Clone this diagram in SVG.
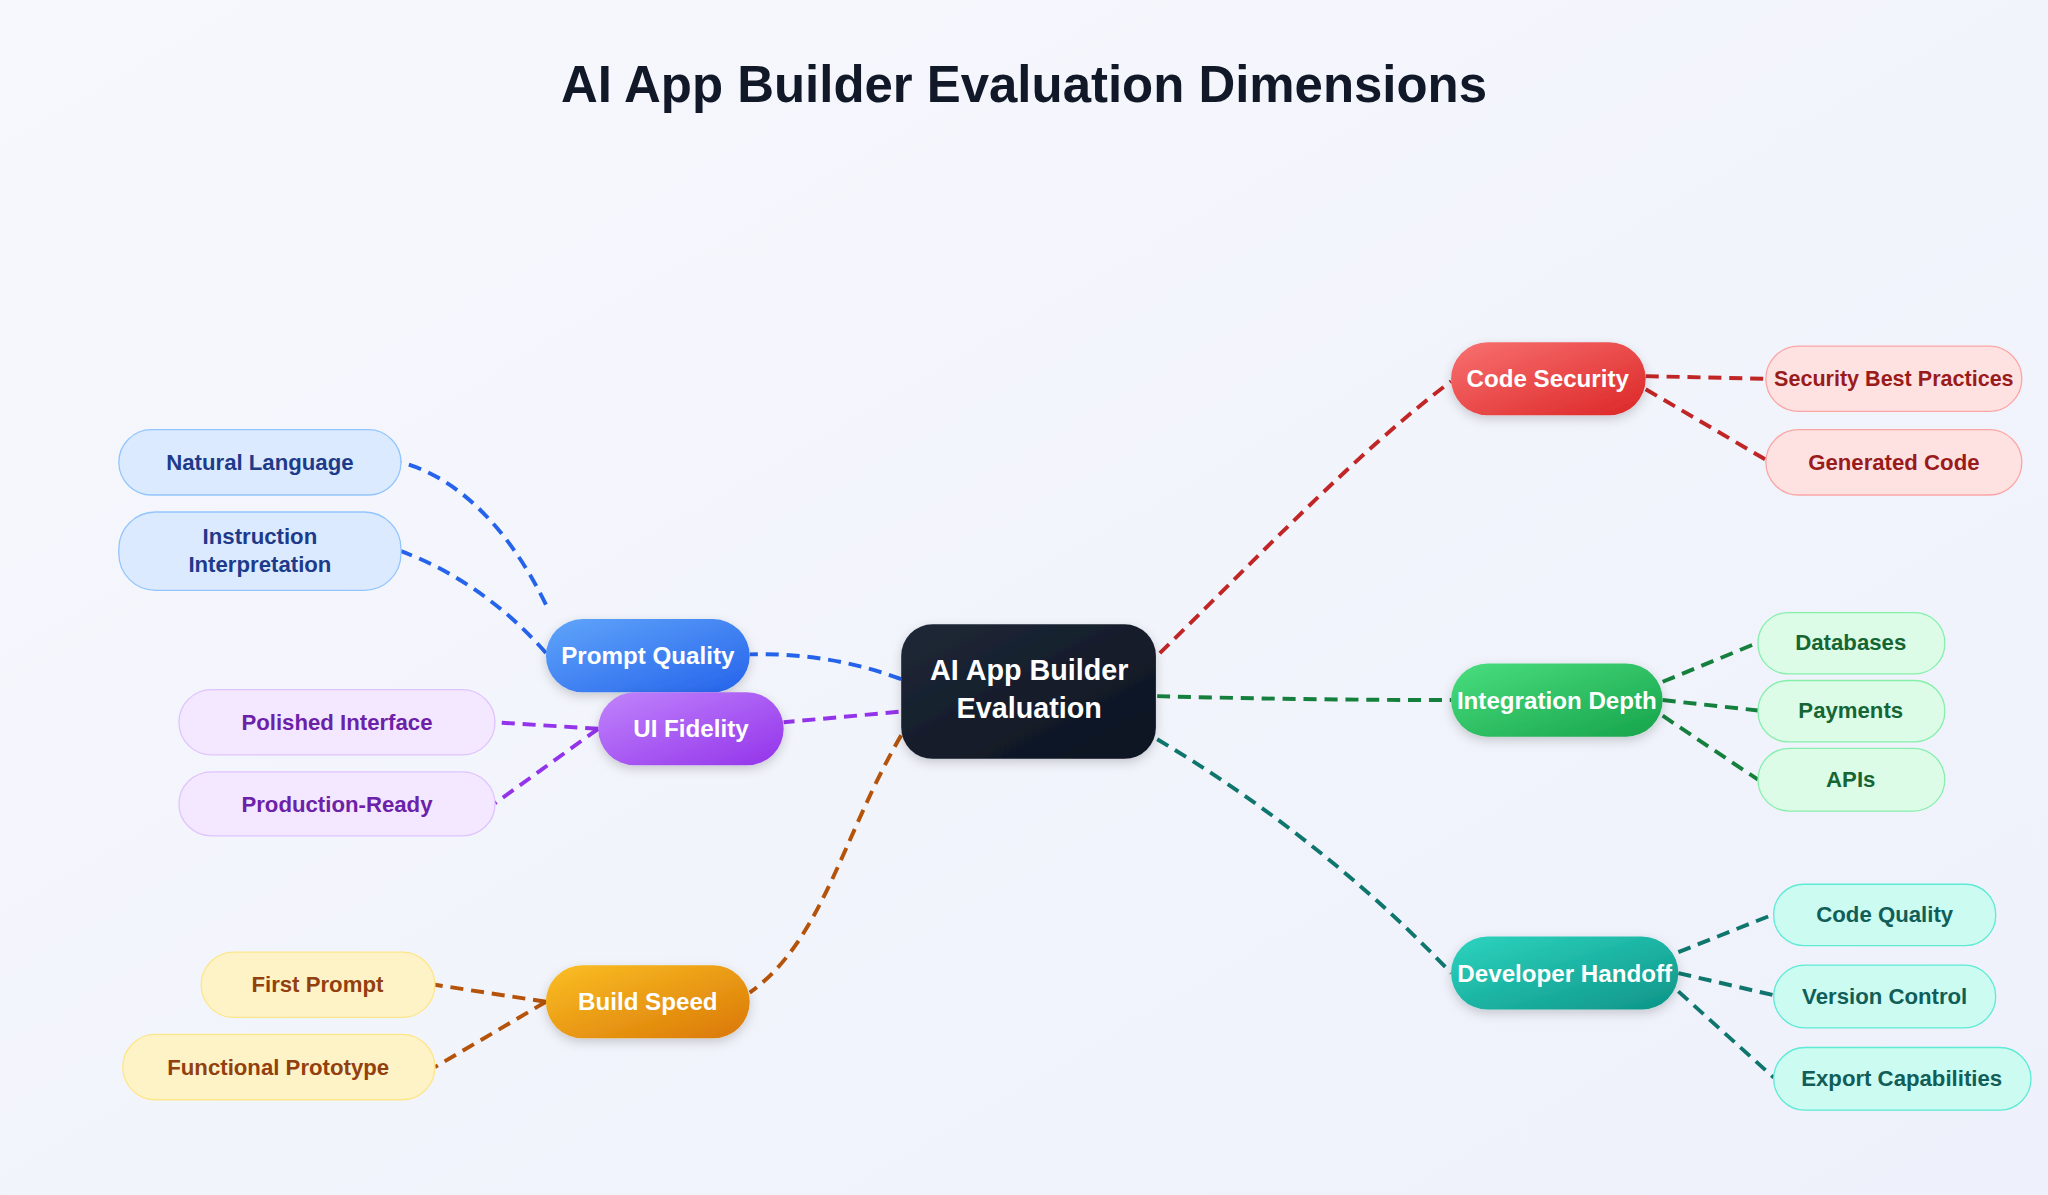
<svg xmlns="http://www.w3.org/2000/svg" width="2048" height="1195" viewBox="0 0 2048 1195">
<defs>
<linearGradient id="bg" x1="0" y1="0" x2="1" y2="1"><stop offset="0" stop-color="#f7f8fd"/><stop offset="1" stop-color="#eef1fb"/></linearGradient>
<linearGradient id="gc" x1="0" y1="0" x2="1" y2="1"><stop offset="0" stop-color="#1f2937"/><stop offset="1" stop-color="#0b1220"/></linearGradient>
<linearGradient id="gb" x1="0" y1="0" x2="1" y2="1"><stop offset="0" stop-color="#60a5fa"/><stop offset="1" stop-color="#2563eb"/></linearGradient>
<linearGradient id="gp" x1="0" y1="0" x2="1" y2="1"><stop offset="0" stop-color="#c084fc"/><stop offset="1" stop-color="#9333ea"/></linearGradient>
<linearGradient id="go" x1="0" y1="0" x2="1" y2="1"><stop offset="0" stop-color="#fbbf24"/><stop offset="1" stop-color="#d97706"/></linearGradient>
<linearGradient id="gr" x1="0" y1="0" x2="1" y2="1"><stop offset="0" stop-color="#f87171"/><stop offset="1" stop-color="#dc2626"/></linearGradient>
<linearGradient id="gg" x1="0" y1="0" x2="1" y2="1"><stop offset="0" stop-color="#4ade80"/><stop offset="1" stop-color="#16a34a"/></linearGradient>
<linearGradient id="gt" x1="0" y1="0" x2="1" y2="1"><stop offset="0" stop-color="#2dd4bf"/><stop offset="1" stop-color="#0d9488"/></linearGradient>
<filter id="sh" x="-20%" y="-30%" width="140%" height="160%"><feDropShadow dx="0" dy="3" stdDeviation="4" flood-color="#000" flood-opacity="0.18"/></filter>
</defs>
<style>
text{font-family:"Liberation Sans",Arial,sans-serif;font-weight:bold;text-anchor:middle;dominant-baseline:central}
.hub{fill:#fff;font-size:18.5px}
.leaf{font-size:17px}
.c{fill:none;stroke-width:3;stroke-dasharray:10 6}
.lb{fill:#dbeafe;stroke:#93c5fd}.tb{fill:#1e3a8a}
.lp{fill:#f3e8ff;stroke:#e0c4fd}.tp{fill:#6b21a8}
.lo{fill:#fef3c7;stroke:#fde68a}.to{fill:#92400e}
.lr{fill:#fee2e2;stroke:#fca5a5}.tr{fill:#991b1b}
.lg{fill:#dcfce7;stroke:#86efac}.tg{fill:#166534}
.lt{fill:#ccfbf1;stroke:#5eead4}.tt{fill:#115e59}
</style>
<rect width="2048" height="1195" fill="url(#bg)"/>
<g transform="scale(1.3061)">
<text x="784" y="65" style="font-size:39px;fill:#111827">AI App Builder Evaluation Dimensions</text>
<g id="connectors">
<path class="c" stroke="#2563eb" d="M690,520 C650,505 610,500 574,501"/>
<path class="c" stroke="#9333ea" d="M688,545 L600,553"/>
<path class="c" stroke="#b45309" d="M690,563 C645,640 630,720 574,760"/>
<path class="c" stroke="#c02626" d="M888,500 C960,430 1040,345 1111,292"/>
<path class="c" stroke="#15803d" d="M886,533 C960,535 1040,536 1111,536"/>
<path class="c" stroke="#0f766e" d="M886,566 C960,610 1040,670 1111,745"/>
<path class="c" stroke="#2563eb" d="M418,463 C390,405 350,365 307,354"/>
<path class="c" stroke="#2563eb" d="M418,500 C385,462 345,436 307,422"/>
<path class="c" stroke="#9333ea" d="M458,558 L379,553"/>
<path class="c" stroke="#9333ea" d="M458,558 L379,615"/>
<path class="c" stroke="#b45309" d="M418,767 L333,754"/>
<path class="c" stroke="#b45309" d="M418,767 L333,817"/>
<path class="c" stroke="#c02626" d="M1260,288 L1352,290"/>
<path class="c" stroke="#c02626" d="M1260,298 L1352,352"/>
<path class="c" stroke="#15803d" d="M1273,522 L1346,492"/>
<path class="c" stroke="#15803d" d="M1273,536 L1346,544"/>
<path class="c" stroke="#15803d" d="M1273,548 L1346,597"/>
<path class="c" stroke="#0f766e" d="M1285,729 L1358,700"/>
<path class="c" stroke="#0f766e" d="M1285,745 L1358,762"/>
<path class="c" stroke="#0f766e" d="M1285,759 L1358,825"/>
</g>
<g id="center"><rect x="690" y="478" width="195" height="103" rx="24" fill="url(#gc)" filter="url(#sh)"/><text class="hub" x="788" y="513" style="font-size:22px">AI App Builder</text><text class="hub" x="788" y="542" style="font-size:22px">Evaluation</text></g>
<g id="prompt-quality"><rect x="418" y="474" width="156" height="56" rx="28" fill="url(#gb)" filter="url(#sh)"/><text class="hub" x="496" y="502">Prompt Quality</text></g>
<g id="ui-fidelity"><rect x="458" y="530" width="142" height="56" rx="28" fill="url(#gp)" filter="url(#sh)"/><text class="hub" x="529" y="558">UI Fidelity</text></g>
<g id="build-speed"><rect x="418" y="739" width="156" height="56" rx="28" fill="url(#go)" filter="url(#sh)"/><text class="hub" x="496" y="767">Build Speed</text></g>
<g id="code-security"><rect x="1111" y="262" width="149" height="56" rx="28" fill="url(#gr)" filter="url(#sh)"/><text class="hub" x="1185" y="290">Code Security</text></g>
<g id="integration-depth"><rect x="1111" y="508" width="162" height="56" rx="28" fill="url(#gg)" filter="url(#sh)"/><text class="hub" x="1192" y="536">Integration Depth</text></g>
<g id="developer-handoff"><rect x="1111" y="717" width="174" height="56" rx="28" fill="url(#gt)" filter="url(#sh)"/><text class="hub" x="1198" y="745">Developer Handoff</text></g>
<g id="natural-language"><rect class="lb" x="91" y="329" width="216" height="50" rx="25"/><text class="leaf tb" x="199" y="354">Natural Language</text></g>
<g id="instruction-interpretation"><rect class="lb" x="91" y="392" width="216" height="60" rx="28"/><text class="leaf tb" x="199" y="411">Instruction</text><text class="leaf tb" x="199" y="432">Interpretation</text></g>
<g id="polished-interface"><rect class="lp" x="137" y="528" width="242" height="50" rx="25"/><text class="leaf tp" x="258" y="553">Polished Interface</text></g>
<g id="production-ready"><rect class="lp" x="137" y="591" width="242" height="49" rx="25"/><text class="leaf tp" x="258" y="616">Production-Ready</text></g>
<g id="first-prompt"><rect class="lo" x="154" y="729" width="179" height="50" rx="25"/><text class="leaf to" x="243" y="754">First Prompt</text></g>
<g id="functional-prototype"><rect class="lo" x="94" y="792" width="239" height="50" rx="25"/><text class="leaf to" x="213" y="817">Functional Prototype</text></g>
<g id="security-best-practices"><rect class="lr" x="1352" y="265" width="196" height="50" rx="25"/><text class="leaf tr" x="1450" y="290" style="font-size:16.5px">Security Best Practices</text></g>
<g id="generated-code"><rect class="lr" x="1352" y="329" width="196" height="50" rx="25"/><text class="leaf tr" x="1450" y="354">Generated Code</text></g>
<g id="databases"><rect class="lg" x="1346" y="469" width="143" height="47" rx="23"/><text class="leaf tg" x="1417" y="492">Databases</text></g>
<g id="payments"><rect class="lg" x="1346" y="521" width="143" height="47" rx="23"/><text class="leaf tg" x="1417" y="544">Payments</text></g>
<g id="apis"><rect class="lg" x="1346" y="573" width="143" height="48" rx="24"/><text class="leaf tg" x="1417" y="597">APIs</text></g>
<g id="code-quality"><rect class="lt" x="1358" y="677" width="170" height="47" rx="23"/><text class="leaf tt" x="1443" y="700">Code Quality</text></g>
<g id="version-control"><rect class="lt" x="1358" y="739" width="170" height="48" rx="24"/><text class="leaf tt" x="1443" y="763">Version Control</text></g>
<g id="export-capabilities"><rect class="lt" x="1358" y="802" width="197" height="48" rx="24"/><text class="leaf tt" x="1456" y="826">Export Capabilities</text></g>
</g>
</svg>
